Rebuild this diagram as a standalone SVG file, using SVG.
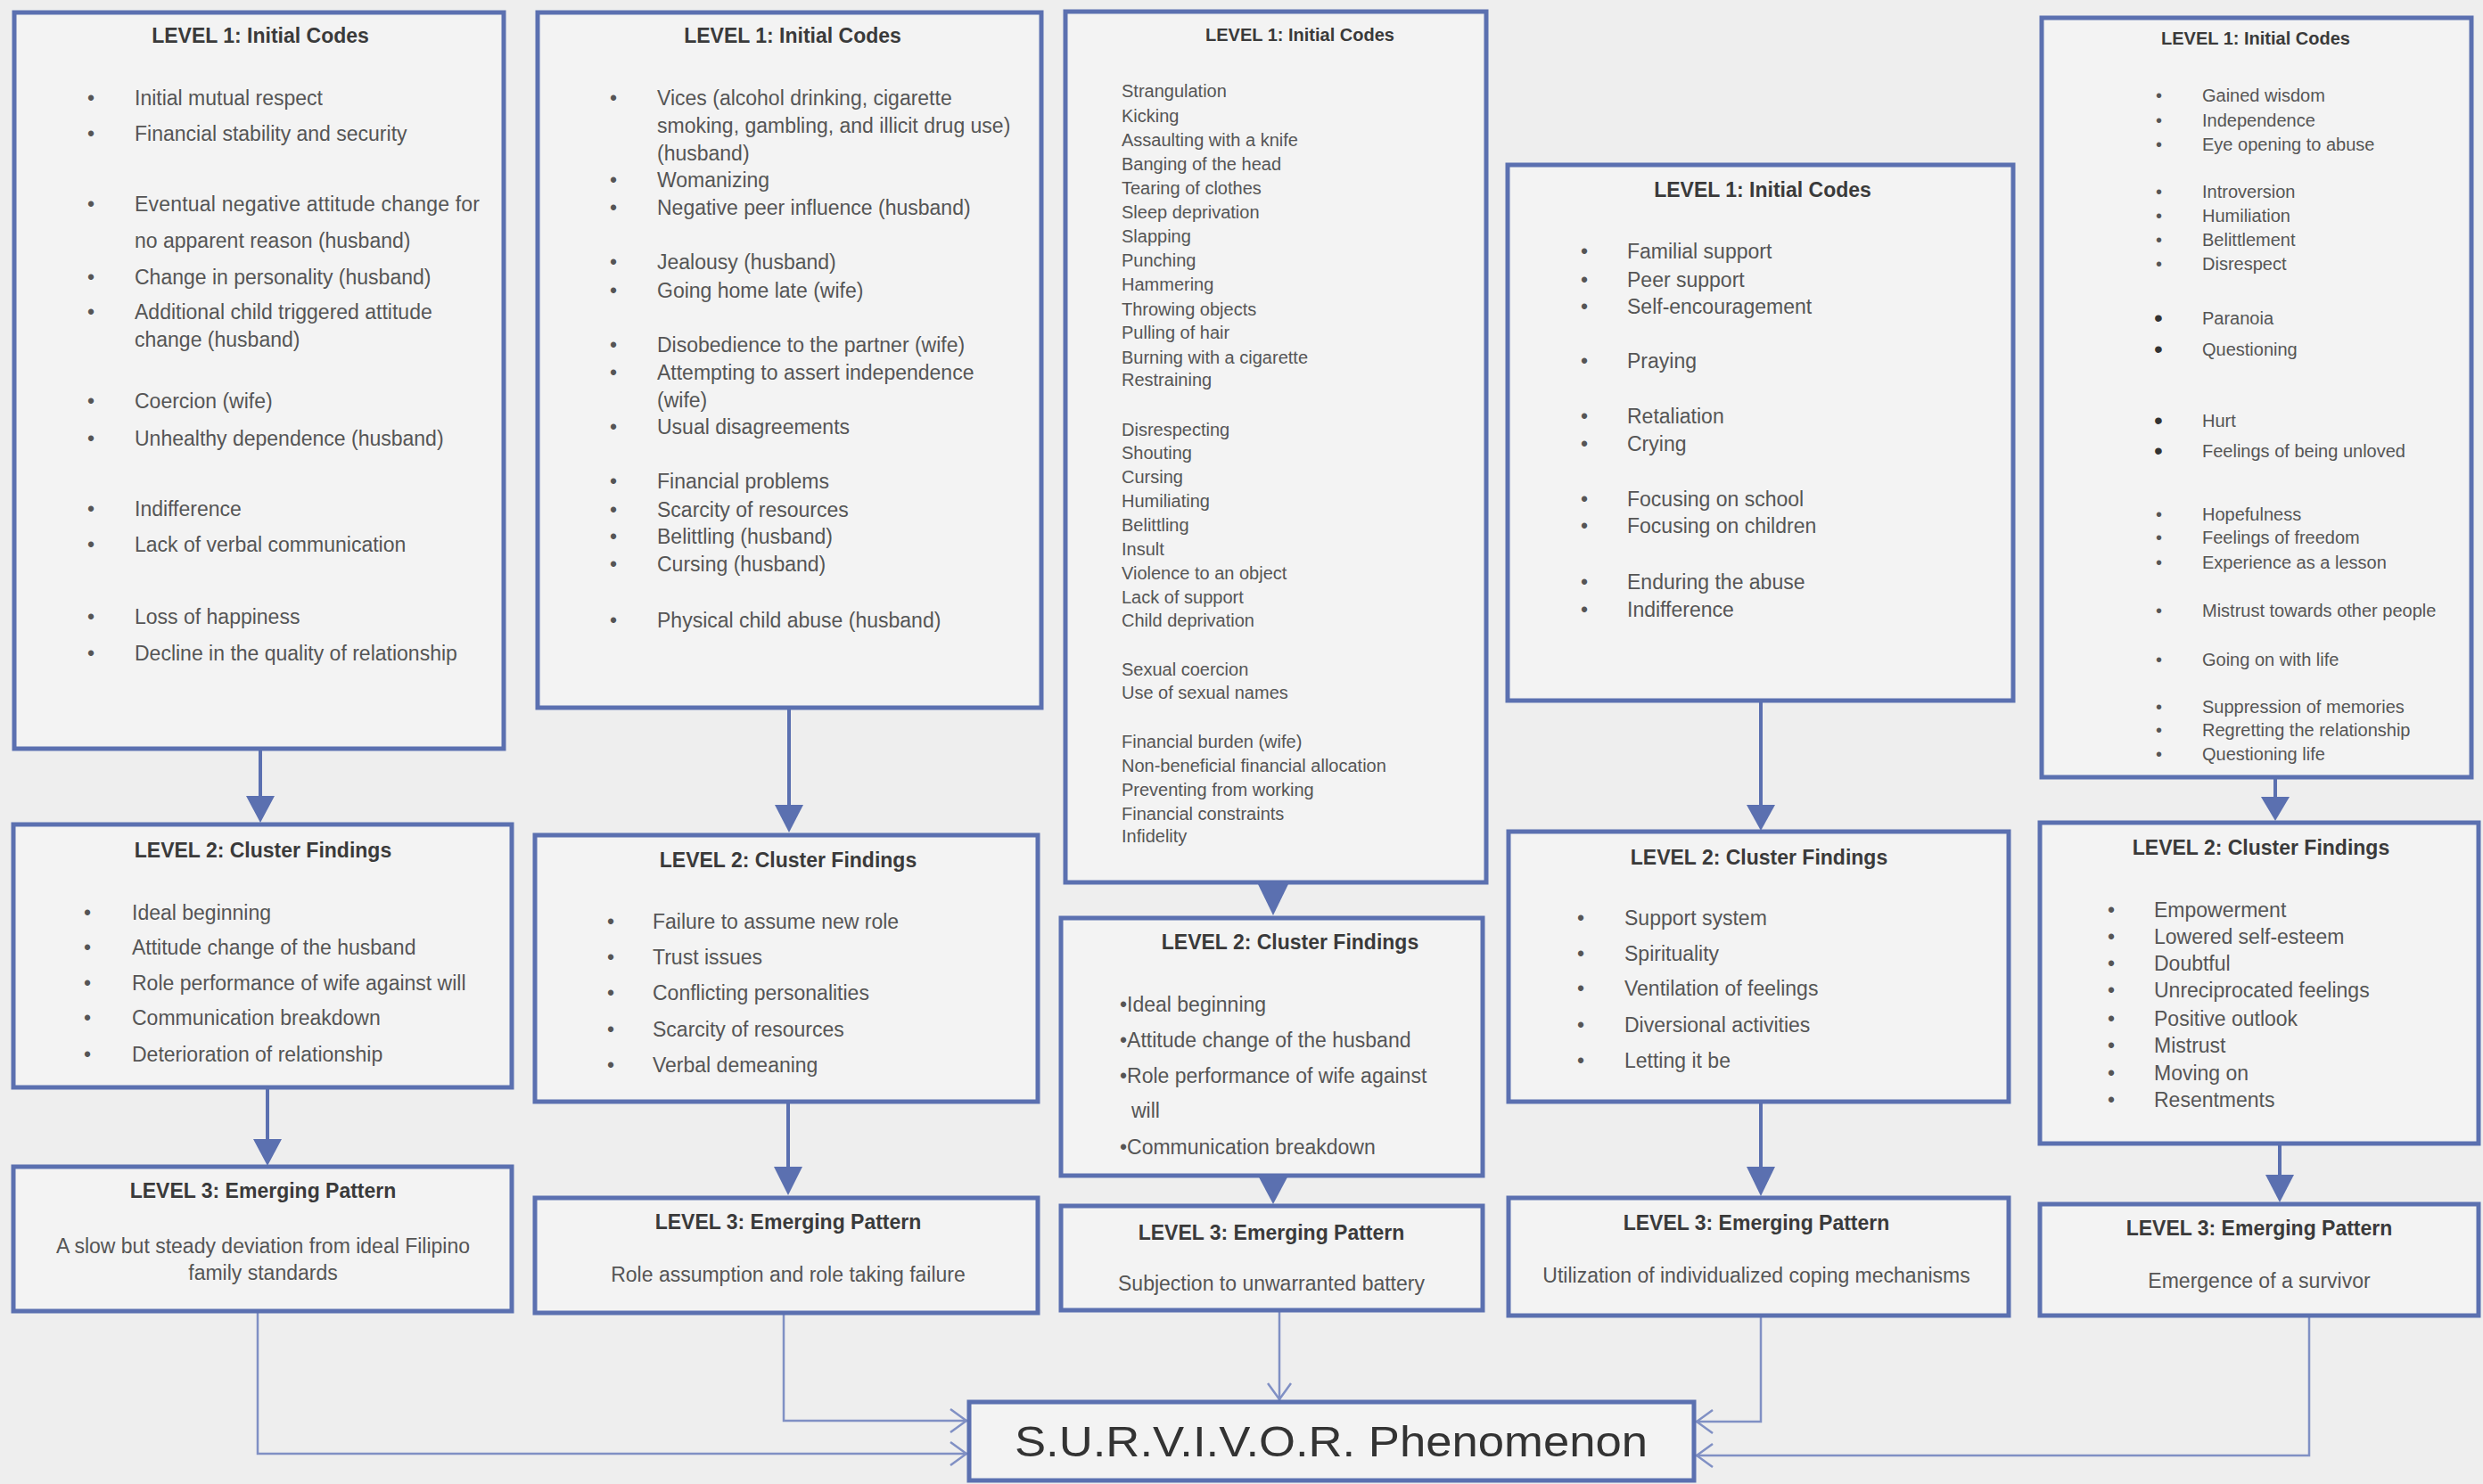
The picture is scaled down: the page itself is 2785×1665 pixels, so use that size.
<svg xmlns="http://www.w3.org/2000/svg" width="2785" height="1665" viewBox="0 0 2785 1665">
<defs>
<style>
.box{fill:#f3f3f3;stroke:#5b70b0;stroke-width:5}
.t{font-family:"Liberation Sans",Arial,sans-serif;font-size:23px;font-weight:bold;fill:#3a3a3a;text-anchor:middle}
.ts{font-family:"Liberation Sans",Arial,sans-serif;font-size:20px;font-weight:bold;fill:#3a3a3a;text-anchor:middle}
.i{font-family:"Liberation Sans",Arial,sans-serif;font-size:23px;fill:#555}
.is{font-family:"Liberation Sans",Arial,sans-serif;font-size:20px;fill:#555}
.c{font-family:"Liberation Sans",Arial,sans-serif;font-size:23px;fill:#555;text-anchor:middle}
.bb{font-family:"Liberation Sans",Arial,sans-serif;font-size:28px;fill:#333}
.shaft{stroke:#5b70b0;stroke-width:4;fill:none}
.head{fill:#5b70b0}
.conn{stroke:#8090c4;stroke-width:2.5;fill:none;marker-end:url(#open)}
.big{font-family:"Liberation Sans",Arial,sans-serif;font-size:48px;fill:#333;text-anchor:middle}
</style>
<marker id="open" viewBox="0 0 20 28" refX="20" refY="14" markerWidth="20" markerHeight="28" markerUnits="userSpaceOnUse" orient="auto">
<path d="M1,1 L19,14 L1,27" fill="none" stroke="#8090c4" stroke-width="2.5"/>
</marker>
</defs>
<rect x="0" y="0" width="2785" height="1665" fill="#eeeeee"/>

<g id="connectors">
<path class="shaft" d="M292,842 V896"/><polygon class="head" points="276,893 308,893 292,923"/>
<path class="shaft" d="M300,1220 V1281"/><polygon class="head" points="284,1278 316,1278 300,1308"/>
<path class="shaft" d="M885,794 V906"/><polygon class="head" points="869,903 901,903 885,934"/>
<path class="shaft" d="M884,1236 V1312"/><polygon class="head" points="868,1309 900,1309 884,1341"/>
<polygon class="head" points="1410,990 1446,990 1428,1027"/>
<polygon class="head" points="1410,1317 1446,1317 1428,1351"/>
<path class="shaft" d="M1975,786 V906"/><polygon class="head" points="1959,903 1991,903 1975,932"/>
<path class="shaft" d="M1975,1236 V1312"/><polygon class="head" points="1959,1309 1991,1309 1975,1342"/>
<path class="shaft" d="M2552,872 V897"/><polygon class="head" points="2536,894 2568,894 2552,921"/>
<path class="shaft" d="M2557,1283 V1321"/><polygon class="head" points="2541,1318 2573,1318 2557,1349"/>
<path class="conn" d="M289,1471 V1631 H1085"/>
<path class="conn" d="M879,1473 V1594 H1085"/>
<path class="conn" d="M1435,1470 V1571"/>
<path class="conn" d="M1975,1476 V1595 H1902"/>
<path class="conn" d="M2590,1476 V1633 H1902"/>
</g>

<g id="c1-level1">
<rect class="box" x="16" y="14" width="549" height="826"/>
<text class="t" x="292" y="48">LEVEL 1: Initial Codes</text>
<g class="i">
<text x="98" y="118">•</text><text x="151" y="118">Initial mutual respect</text>
<text x="98" y="158">•</text><text x="151" y="158">Financial stability and security</text>
<text x="98" y="237">•</text><text x="151" y="237" textLength="387" lengthAdjust="spacing">Eventual negative attitude change for</text>
<text x="151" y="278">no apparent reason (husband)</text>
<text x="98" y="319">•</text><text x="151" y="319">Change in personality (husband)</text>
<text x="98" y="358">•</text><text x="151" y="358">Additional child triggered attitude</text>
<text x="151" y="389">change  (husband)</text>
<text x="98" y="458">•</text><text x="151" y="458">Coercion (wife)</text>
<text x="98" y="500">•</text><text x="151" y="500">Unhealthy dependence  (husband)</text>
<text x="98" y="579">•</text><text x="151" y="579">Indifference</text>
<text x="98" y="619">•</text><text x="151" y="619">Lack of verbal communication</text>
<text x="98" y="700">•</text><text x="151" y="700">Loss of happiness</text>
<text x="98" y="741">•</text><text x="151" y="741">Decline in the quality of relationship</text>
</g>
</g>

<g id="c1-level2">
<rect class="box" x="15" y="925" width="559" height="295"/>
<text class="t" x="295" y="962">LEVEL 2: Cluster Findings</text>
<g class="i">
<text x="94" y="1032">•</text><text x="148" y="1032">Ideal beginning</text>
<text x="94" y="1071">•</text><text x="148" y="1071">Attitude change of the husband</text>
<text x="94" y="1111">•</text><text x="148" y="1111">Role performance of wife against will</text>
<text x="94" y="1150">•</text><text x="148" y="1150">Communication breakdown</text>
<text x="94" y="1191">•</text><text x="148" y="1191">Deterioration of relationship</text>
</g>
</g>

<g id="c1-level3">
<rect class="box" x="15" y="1309" width="559" height="162"/>
<text class="t" x="295" y="1344">LEVEL 3: Emerging Pattern</text>
<text class="c" x="295" y="1406">A slow but steady deviation from ideal Filipino</text>
<text class="c" x="295" y="1436">family standards</text>
</g>

<g id="c2-level1">
<rect class="box" x="603" y="14" width="565" height="780"/>
<text class="t" x="889" y="48">LEVEL 1: Initial Codes</text>
<g class="i">
<text x="684" y="118">•</text><text x="737" y="118">Vices (alcohol drinking, cigarette</text>
<text x="737" y="149">smoking, gambling, and illicit drug use)</text>
<text x="737" y="180">(husband)</text>
<text x="684" y="210">•</text><text x="737" y="210">Womanizing</text>
<text x="684" y="241">•</text><text x="737" y="241">Negative peer influence (husband)</text>
<text x="684" y="302">•</text><text x="737" y="302">Jealousy (husband)</text>
<text x="684" y="334">•</text><text x="737" y="334">Going home late (wife)</text>
<text x="684" y="395">•</text><text x="737" y="395">Disobedience to the partner (wife)</text>
<text x="684" y="426">•</text><text x="737" y="426">Attempting to assert independence</text>
<text x="737" y="457">(wife)</text>
<text x="684" y="487">•</text><text x="737" y="487">Usual disagreements</text>
<text x="684" y="548">•</text><text x="737" y="548">Financial problems</text>
<text x="684" y="580">•</text><text x="737" y="580">Scarcity of resources</text>
<text x="684" y="610">•</text><text x="737" y="610">Belittling (husband)</text>
<text x="684" y="641">•</text><text x="737" y="641">Cursing (husband)</text>
<text x="684" y="704">•</text><text x="737" y="704">Physical child abuse (husband)</text>
</g>
</g>

<g id="c2-level2">
<rect class="box" x="600" y="937" width="564" height="299"/>
<text class="t" x="884" y="973">LEVEL 2: Cluster Findings</text>
<g class="i">
<text x="681" y="1042">•</text><text x="732" y="1042">Failure to assume new role</text>
<text x="681" y="1082">•</text><text x="732" y="1082">Trust issues</text>
<text x="681" y="1122">•</text><text x="732" y="1122">Conflicting personalities</text>
<text x="681" y="1163">•</text><text x="732" y="1163">Scarcity of resources</text>
<text x="681" y="1203">•</text><text x="732" y="1203">Verbal demeaning</text>
</g>
</g>

<g id="c2-level3">
<rect class="box" x="600" y="1344" width="564" height="129"/>
<text class="t" x="884" y="1379">LEVEL 3: Emerging Pattern</text>
<text class="c" x="884" y="1438">Role assumption and role taking failure</text>
</g>

<g id="c3-level1">
<rect class="box" x="1195" y="13" width="472" height="977"/>
<text class="ts" x="1458" y="46">LEVEL 1: Initial Codes</text>
<g class="is">
<text x="1258" y="109">Strangulation</text>
<text x="1258" y="137">Kicking</text>
<text x="1258" y="164">Assaulting with a knife</text>
<text x="1258" y="191">Banging of the head</text>
<text x="1258" y="218">Tearing of clothes</text>
<text x="1258" y="245">Sleep deprivation</text>
<text x="1258" y="272">Slapping</text>
<text x="1258" y="299">Punching</text>
<text x="1258" y="326">Hammering</text>
<text x="1258" y="354">Throwing objects</text>
<text x="1258" y="380">Pulling of hair</text>
<text x="1258" y="408">Burning with a cigarette</text>
<text x="1258" y="433">Restraining</text>
<text x="1258" y="489">Disrespecting</text>
<text x="1258" y="515">Shouting</text>
<text x="1258" y="542">Cursing</text>
<text x="1258" y="569">Humiliating</text>
<text x="1258" y="596">Belittling</text>
<text x="1258" y="623">Insult</text>
<text x="1258" y="650">Violence to an object</text>
<text x="1258" y="677">Lack of support</text>
<text x="1258" y="703">Child deprivation</text>
<text x="1258" y="758">Sexual coercion</text>
<text x="1258" y="784">Use of sexual names</text>
<text x="1258" y="839">Financial burden (wife)</text>
<text x="1258" y="866">Non-beneficial financial allocation</text>
<text x="1258" y="893">Preventing from working</text>
<text x="1258" y="920">Financial constraints</text>
<text x="1258" y="945">Infidelity</text>
</g>
</g>

<g id="c3-level2">
<rect class="box" x="1190" y="1030" width="473" height="289"/>
<text class="t" x="1447" y="1065">LEVEL 2: Cluster Findings</text>
<g class="i">
<text x="1256" y="1135">•Ideal beginning</text>
<text x="1256" y="1175">•Attitude change of the husband</text>
<text x="1256" y="1215">•Role performance of wife against</text>
<text x="1269" y="1254">will</text>
<text x="1256" y="1295">•Communication breakdown</text>
</g>
</g>

<g id="c3-level3">
<rect class="box" x="1190" y="1353" width="473" height="117"/>
<text class="t" x="1426" y="1391">LEVEL 3: Emerging Pattern</text>
<text class="c" x="1426" y="1448">Subjection to unwarranted battery</text>
</g>

<g id="c4-level1">
<rect class="box" x="1691" y="185" width="567" height="601"/>
<text class="t" x="1977" y="221">LEVEL 1: Initial Codes</text>
<g class="i">
<text x="1773" y="290">•</text><text x="1825" y="290">Familial support</text>
<text x="1773" y="322">•</text><text x="1825" y="322">Peer support</text>
<text x="1773" y="352">•</text><text x="1825" y="352">Self-encouragement</text>
<text x="1773" y="413">•</text><text x="1825" y="413">Praying</text>
<text x="1773" y="475">•</text><text x="1825" y="475">Retaliation</text>
<text x="1773" y="506">•</text><text x="1825" y="506">Crying</text>
<text x="1773" y="568">•</text><text x="1825" y="568">Focusing on school</text>
<text x="1773" y="598">•</text><text x="1825" y="598">Focusing on children</text>
<text x="1773" y="661">•</text><text x="1825" y="661">Enduring the abuse</text>
<text x="1773" y="692">•</text><text x="1825" y="692">Indifference</text>
</g>
</g>

<g id="c4-level2">
<rect class="box" x="1692" y="933" width="561" height="303"/>
<text class="t" x="1973" y="970">LEVEL 2: Cluster Findings</text>
<g class="i">
<text x="1769" y="1038">•</text><text x="1822" y="1038">Support system</text>
<text x="1769" y="1078">•</text><text x="1822" y="1078">Spirituality</text>
<text x="1769" y="1117">•</text><text x="1822" y="1117">Ventilation of feelings</text>
<text x="1769" y="1158">•</text><text x="1822" y="1158">Diversional activities</text>
<text x="1769" y="1198">•</text><text x="1822" y="1198">Letting it be</text>
</g>
</g>

<g id="c4-level3">
<rect class="box" x="1692" y="1344" width="561" height="132"/>
<text class="t" x="1970" y="1380">LEVEL 3: Emerging Pattern</text>
<text class="c" x="1970" y="1439">Utilization of individualized coping mechanisms</text>
</g>

<g id="c5-level1">
<rect class="box" x="2290" y="20" width="482" height="852"/>
<text class="ts" x="2530" y="50">LEVEL 1: Initial Codes</text>
<g class="is">
<text x="2418" y="114">•</text><text x="2470" y="114">Gained wisdom</text>
<text x="2418" y="142">•</text><text x="2470" y="142">Independence</text>
<text x="2418" y="169">•</text><text x="2470" y="169">Eye opening to abuse</text>
<text x="2418" y="222">•</text><text x="2470" y="222">Introversion</text>
<text x="2418" y="249">•</text><text x="2470" y="249">Humiliation</text>
<text x="2418" y="276">•</text><text x="2470" y="276">Belittlement</text>
<text x="2418" y="303">•</text><text x="2470" y="303">Disrespect</text>
<text class="bb" x="2416" y="366">•</text><text x="2470" y="364">Paranoia</text>
<text class="bb" x="2416" y="401">•</text><text x="2470" y="399">Questioning</text>
<text class="bb" x="2416" y="481">•</text><text x="2470" y="479">Hurt</text>
<text class="bb" x="2416" y="515">•</text><text x="2470" y="513">Feelings of being unloved</text>
<text x="2418" y="584">•</text><text x="2470" y="584">Hopefulness</text>
<text x="2418" y="610">•</text><text x="2470" y="610">Feelings of freedom</text>
<text x="2418" y="638">•</text><text x="2470" y="638">Experience as a lesson</text>
<text x="2418" y="692">•</text><text x="2470" y="692">Mistrust towards other people</text>
<text x="2418" y="747">•</text><text x="2470" y="747">Going on with life</text>
<text x="2418" y="800">•</text><text x="2470" y="800">Suppression of memories</text>
<text x="2418" y="826">•</text><text x="2470" y="826">Regretting the relationship</text>
<text x="2418" y="853">•</text><text x="2470" y="853">Questioning life</text>
</g>
</g>

<g id="c5-level2">
<rect class="box" x="2288" y="923" width="492" height="360"/>
<text class="t" x="2536" y="959">LEVEL 2: Cluster Findings</text>
<g class="i">
<text x="2364" y="1029">•</text><text x="2416" y="1029">Empowerment</text>
<text x="2364" y="1059">•</text><text x="2416" y="1059">Lowered self-esteem</text>
<text x="2364" y="1089">•</text><text x="2416" y="1089">Doubtful</text>
<text x="2364" y="1119">•</text><text x="2416" y="1119">Unreciprocated feelings</text>
<text x="2364" y="1151">•</text><text x="2416" y="1151">Positive outlook</text>
<text x="2364" y="1181">•</text><text x="2416" y="1181">Mistrust</text>
<text x="2364" y="1212">•</text><text x="2416" y="1212">Moving on</text>
<text x="2364" y="1242">•</text><text x="2416" y="1242">Resentments</text>
</g>
</g>

<g id="c5-level3">
<rect class="box" x="2288" y="1351" width="492" height="125"/>
<text class="t" x="2534" y="1386">LEVEL 3: Emerging Pattern</text>
<text class="c" x="2534" y="1445">Emergence of a survivor</text>
</g>

<g id="survivor">
<rect class="box" x="1087" y="1573" width="813" height="88"/>
<text class="big" x="1493" y="1634" textLength="710" lengthAdjust="spacingAndGlyphs">S.U.R.V.I.V.O.R. Phenomenon</text>
</g>
</svg>
